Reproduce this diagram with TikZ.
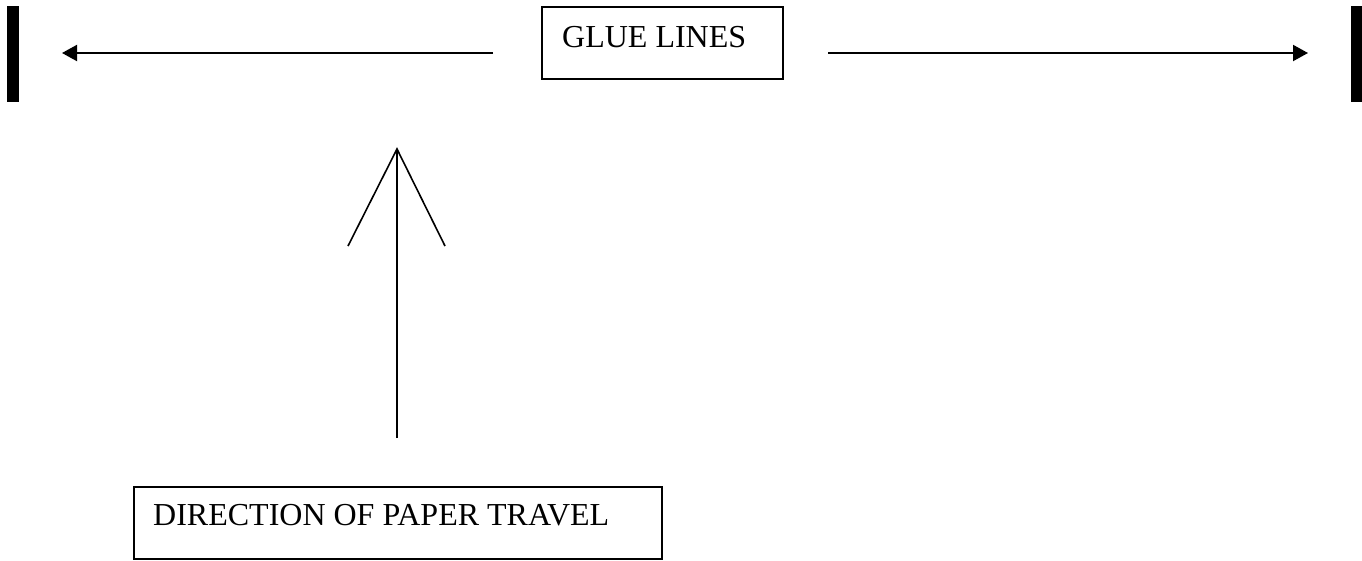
\documentclass[tikz,border=0pt]{standalone}
\usepackage{fontspec}
\setmainfont{Liberation Serif}
\usetikzlibrary{arrows.meta}
\begin{document}
\begin{tikzpicture}[x=1pt,y=-1pt,
  box/.style={draw=black,line width=1.8pt,inner sep=0pt,anchor=north west},
  lbl/.style={anchor=base west,inner sep=0pt,font=\fontsize{32}{38}\selectfont},
  bar/.style={fill=black,inner sep=0pt,minimum width=12pt,minimum height=96pt},
  conn/.style={line width=2pt,-{Triangle[length=15pt,width=16pt]}},
  thin/.style={line width=1.6pt}]
\useasboundingbox (0,0) rectangle (1362,560);
% bars
\node[bar] (lbar) at (13,54) {};
\node[bar] (rbar) at (1356.5,54) {};
% glue box
\node[box,minimum width=241pt,minimum height=72pt] (glue) at (541,6) {};
\node[lbl] (gluetext) at (562,47) {GLUE LINES};
% horizontal arrows
\coordinate (lstart) at (493,53);
\coordinate (lend) at (62,53);
\coordinate (rstart) at (828,53);
\coordinate (rend) at (1308,53);
\draw[conn] (lstart) -- (lend);
\draw[conn] (rstart) -- (rend);
% direction box
\node[box,minimum width=528pt,minimum height=72pt] (dir) at (133,486) {};
\node[lbl] (dirtext) at (153,525) {DIRECTION OF PAPER TRAVEL};
% up arrow
\coordinate (tail) at (397,438);
\coordinate (apex) at (397,149);
\coordinate (wl) at (348,246);
\coordinate (wr) at (445,246);
\draw[thin] (tail) -- (apex);
\draw[thin,line join=miter] (wl) -- (apex) -- (wr);
\end{tikzpicture}
\end{document}
